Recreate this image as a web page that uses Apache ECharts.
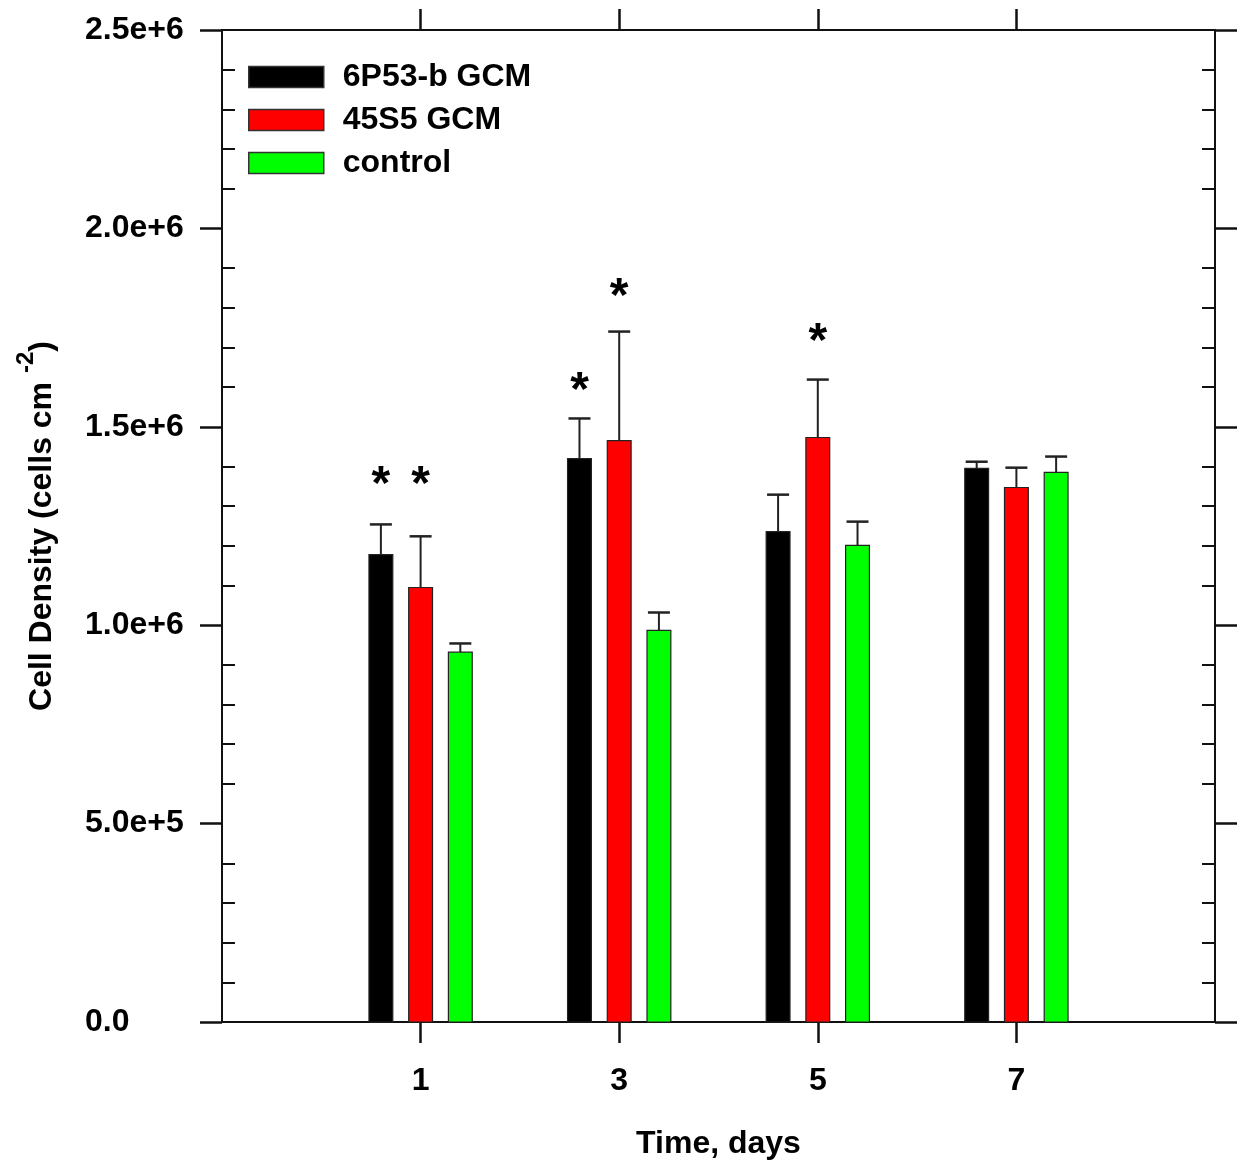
<!DOCTYPE html>
<html>
<head>
<meta charset="utf-8">
<script src="https://cdn.jsdelivr.net/npm/echarts@6/dist/echarts.min.js"></script>
<style>
  html, body { margin: 0; padding: 0; background: #fff; }
  #main { width: 1246px; height: 1165px; }
</style>
</head>
<body>
<div id="main"></div>
<script>
var days = [1, 3, 5, 7];
var p53Mean = [1.178e6, 1.420e6, 1.236e6, 1.395e6];
var p53Err = [0.076e6, 0.101e6, 0.093e6, 0.017e6];
var bg45Mean = [1.095e6, 1.465e6, 1.473e6, 1.347e6];
var bg45Err = [0.129e6, 0.275e6, 0.146e6, 0.050e6];
var ctrlMean = [0.932e6, 0.987e6, 1.201e6, 1.385e6];
var ctrlErr = [0.022e6, 0.045e6, 0.060e6, 0.040e6];
// height of the significance star, 0 = no star
var p53Star = [1.352e6, 1.589e6, 0, 0];
var bg45Star = [1.352e6, 1.825e6, 1.712e6, 0];
var ctrlStar = [0, 0, 0, 0];
var yTickLabels = ['0.0', '5.0e+5', '1.0e+6', '1.5e+6', '2.0e+6', '2.5e+6'];

var FONT = 'Liberation Sans';
var INK = '#111';

function rows(mean, err, star) {
  var out = [];
  for (var i = 0; i < days.length; i++) {
    out.push([days[i], mean[i], err[i], star[i]]);
  }
  return out;
}

function makeRender(shift) {
  return function (params, api) {
    var x = api.value(0) + shift;
    var mean = api.value(1);
    var err = api.value(2);
    var star = api.value(3);
    var base = api.coord([x, 0]);
    var top = api.coord([x, mean]);
    var errTop = api.coord([x, mean + err]);
    var w = api.size([0.24, 0])[0];
    var kids = [
      {
        type: 'line',
        shape: { x1: top[0], y1: top[1], x2: top[0], y2: errTop[1] },
        style: { stroke: '#222', lineWidth: 2 }
      },
      {
        type: 'line',
        shape: { x1: top[0] - 11, y1: errTop[1], x2: top[0] + 11, y2: errTop[1] },
        style: { stroke: '#222', lineWidth: 2.5 }
      },
      {
        type: 'rect',
        shape: { x: base[0] - w / 2, y: top[1], width: w, height: base[1] - top[1] },
        style: { fill: api.visual('color'), stroke: '#222', lineWidth: 1.2 }
      }
    ];
    if (star > 0) {
      var sp = api.coord([x, star]);
      kids.push({
        type: 'text',
        x: sp[0],
        y: sp[1],
        style: {
          text: '*', fontSize: 48, fontWeight: 'bold', fontFamily: FONT,
          fill: '#000', align: 'center', verticalAlign: 'middle'
        }
      });
    }
    return { type: 'group', children: kids };
  };
}

var chart = echarts.init(document.getElementById('main'));

var xBase = {
  type: 'value', min: -1, max: 9, interval: 2,
  splitLine: { show: false },
  axisLine: { onZero: false, lineStyle: { color: INK, width: 2 } },
  axisTick: { customValues: days, length: 21, lineStyle: { color: INK, width: 2.5 } }
};
var yBase = {
  type: 'value', min: 0, max: 2.5e6, interval: 5e5,
  splitLine: { show: false },
  axisLine: { show: true, onZero: false, lineStyle: { color: INK, width: 2 } }
};

var option = {
  backgroundColor: '#fff',
  animation: false,
  grid: { left: 222, right: 31, top: 30, bottom: 142 },
  legend: {
    orient: 'vertical',
    left: 243,
    top: 56,
    icon: 'rect',
    itemWidth: 75,
    itemHeight: 21,
    itemGap: 11,
    itemStyle: { borderColor: '#333', borderWidth: 1.5 },
    textStyle: { fontSize: 32, fontWeight: 'bold', fontFamily: FONT, color: '#000', padding: [0, 0, 0, 14] },
    data: ['6P53-b GCM', '45S5 GCM', 'control']
  },
  xAxis: [
    Object.assign({}, xBase, {
      position: 'bottom',
      name: 'Time, days',
      nameLocation: 'middle',
      nameGap: 106,
      nameTextStyle: { fontSize: 32, fontWeight: 'bold', fontFamily: FONT, color: '#000' },
      axisLabel: {
        customValues: days, margin: 43,
        fontSize: 32, fontWeight: 'bold', fontFamily: FONT, color: '#000'
      }
    }),
    Object.assign({}, xBase, {
      position: 'top',
      axisLabel: { show: false }
    })
  ],
  yAxis: [
    Object.assign({}, yBase, {
      position: 'left',
      name: '{a|Cell Density (cells cm }{b|-2}{a|)}',
      nameLocation: 'middle',
      nameGap: 164,
      nameTextStyle: {
        rich: {
          a: { fontSize: 32, fontWeight: 'bold', fontFamily: FONT, color: '#000', lineHeight: 44, verticalAlign: 'bottom' },
          b: { fontSize: 24, fontWeight: 'bold', fontFamily: FONT, color: '#000', lineHeight: 44, verticalAlign: 'top' }
        }
      },
      axisTick: { length: 22, lineStyle: { color: INK, width: 2.5 } },
      axisLabel: {
        margin: 137, align: 'left', padding: [8, 0, 0, 0],
        fontSize: 32, fontWeight: 'bold', fontFamily: FONT, color: '#000',
        formatter: function (v, i) { return yTickLabels[i]; }
      }
    }),
    Object.assign({}, yBase, {
      position: 'left',
      axisLine: { show: false, onZero: false },
      axisTick: { show: false, inside: true },
      axisLabel: { show: false },
      minorTick: { show: true, splitNumber: 5, length: 13, lineStyle: { color: INK, width: 2 } }
    }),
    Object.assign({}, yBase, {
      position: 'right',
      axisTick: { length: 22, lineStyle: { color: INK, width: 2.5 } },
      axisLabel: { show: false }
    }),
    Object.assign({}, yBase, {
      position: 'right',
      axisLine: { show: false, onZero: false },
      axisTick: { show: false, inside: true },
      axisLabel: { show: false },
      minorTick: { show: true, splitNumber: 5, length: 13, lineStyle: { color: INK, width: 2 } }
    })
  ],
  series: [
    {
      name: '6P53-b GCM', type: 'custom', renderItem: makeRender(-0.4),
      itemStyle: { color: '#000000' },
      encode: { x: 0, y: 1 },
      data: rows(p53Mean, p53Err, p53Star)
    },
    {
      name: '45S5 GCM', type: 'custom', renderItem: makeRender(0),
      itemStyle: { color: '#ff0000' },
      encode: { x: 0, y: 1 },
      data: rows(bg45Mean, bg45Err, bg45Star)
    },
    {
      name: 'control', type: 'custom', renderItem: makeRender(0.4),
      itemStyle: { color: '#00ff00' },
      encode: { x: 0, y: 1 },
      data: rows(ctrlMean, ctrlErr, ctrlStar)
    }
  ]
};

chart.setOption(option);
</script>
</body>
</html>
